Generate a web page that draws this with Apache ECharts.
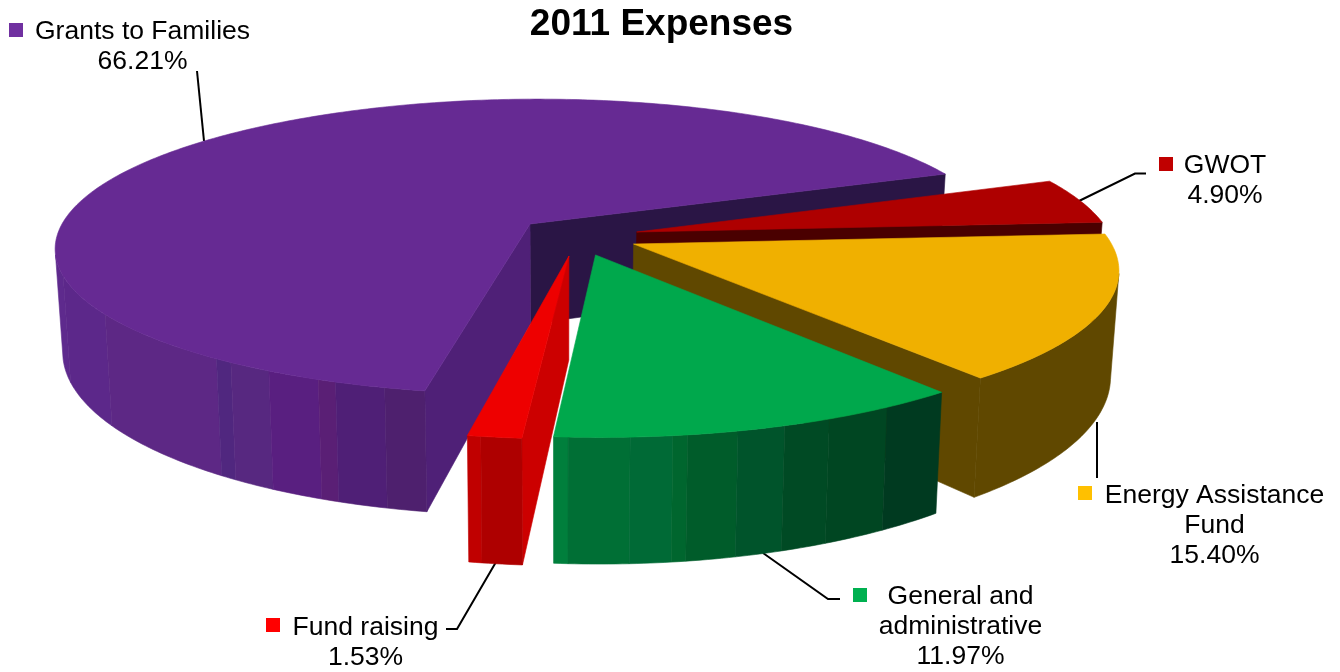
<!DOCTYPE html>
<html>
<head>
<meta charset="utf-8">
<title>2011 Expenses</title>
<script src="https://cdn.jsdelivr.net/npm/echarts@6/dist/echarts.min.js"></script>
<style>
  html, body { margin: 0; padding: 0; background: #fff; }
  #chart { width: 1340px; height: 672px; }
</style>
</head>
<body>
<div id="chart"></div>
<script>
// Expense shares, listed in the order the slices run around the pie.
const categories = ['Grants to Families', 'Fund raising', 'General and administrative', 'Energy Assistance Fund', 'GWOT'];
const shares = [66.21, 1.53, 11.97, 15.40, 4.90];

// Label line breaks for the names that wrap.
const labelLines = [['Grants to Families'], ['Fund raising'], ['General and', 'administrative'], ['Energy Assistance', 'Fund'], ['GWOT']];

// Slice colours.
const keyColors = ['#7030a0', '#ff0000', '#00b050', '#ffc000', '#c00000'];
const topColors = ['#662a93', '#ee0000', '#00a84c', '#f0b000', '#ae0000'];

// Outer wall facets per slice: [end angle in degrees, colour], walking counter-clockwise.
const wallBands = [
  { from: 192, bands: [[200, '#5e2a8d'], [215, '#5c288a'], [235, '#5d2885'], [237, '#50277f'], [242, '#572880'], [248, '#591f80'], [250, '#5a1f75'], [255.5, '#4f1f76'], [261, '#4e206e']] },
  { from: null, bands: [[261.2, '#c00000'], [266, '#ae0000']] },
  { from: null, bands: [[266.8, '#007f3c'], [273, '#006f35'], [277.3, '#006a36'], [278.8, '#00662e'], [284, '#005c2a'], [289, '#00542b'], [294, '#004a24'], [301, '#004622'], [309, '#003a20']] },
  { from: null, bands: [[349, '#604800']] },
  { from: null, bands: [] }
];

// Flat cut faces that stay visible on each slice.
const cutFaces = [
  [['start', '#2a1545'], ['end', '#4f2077']],
  [['end', '#cc0000']],
  [],
  [['start', '#604800']],
  [['start', '#4a0000']]
];

// How far each slice is pulled out of the pie, in pie radii.
const explodeX = [0, 0.084, 0.139, 0.219, 0.227];
const explodeY = [0, -0.215, -0.208, -0.136, -0.055];
// Painting order, back to front.
const paintRank = [0, 3, 4, 2, 1];

// Perspective camera for the top and bottom planes of the disc.
const view = {
  cx: 530, cy: 224, fx: 468, fy: 144, persp: 0.153, shear: 8,
  depth: 100, fyBottom: 162, pinchX: 560, pinch: 0.985
};
const startAngle = 21.5;
const total = shares.reduce((a, b) => a + b, 0);

// Label placement: key square [x, y], text centre x, first line centre y.
const labelBox = [
  { key: [9, 23], cx: 142.5, y: 32 },
  { key: [266, 618], cx: 365.5, y: 628 },
  { key: [853, 588], cx: 960.5, y: 597 },
  { key: [1078, 486], cx: 1214.5, y: 496 },
  { key: [1159, 157], cx: 1225, y: 166 }
];
const leaderPaths = [
  [[197, 71], [204, 141]],
  [[446, 629], [457, 629], [496, 562]],
  [[840, 599], [828, 599], [763, 553]],
  [[1097, 478], [1097, 422]],
  [[1146, 173.5], [1135, 173.5], [1079, 201]]
];

function sliceRange(i) {
  let a = startAngle;
  for (let k = 0; k < i; k++) a += shares[k] / total * 360;
  return [a, a + shares[i] / total * 360];
}

function projectTop(X, Y) {
  const w = 1 + view.persp * Y;
  return [view.cx + view.fx * X / w + view.shear * Y, view.cy - view.fy * Y / w];
}
function projectBottom(X, Y) {
  const w = 1 + view.persp * Y;
  const p = projectTop(X, Y);
  return [view.pinchX + (p[0] - view.pinchX) * view.pinch, view.cy + view.depth - view.fyBottom * Y / w];
}
function rimPoint(i, deg) {
  const r = deg * Math.PI / 180;
  return [explodeX[i] + Math.cos(r), explodeY[i] + Math.sin(r)];
}
function arcSamples(from, to) {
  const n = Math.max(2, Math.ceil(Math.abs(to - from) / 0.75));
  const out = [];
  for (let k = 0; k <= n; k++) out.push(from + (to - from) * k / n);
  return out;
}
function poly(points, color, z2) {
  return {
    type: 'polygon', z2: z2, silent: true,
    shape: { points: points },
    style: { fill: color, stroke: color, lineWidth: 0.6 }
  };
}

// One 3D wedge: cut faces and wall facets first, top face last.
function renderSlice(params, api) {
  const i = params.dataIndex;
  const sweep = api.value(0) / total * 360;
  const a0 = sliceRange(i)[0];
  const a1 = a0 + sweep;
  const base = paintRank[i] * 10;
  const children = [];
  const apex = [explodeX[i], explodeY[i]];

  cutFaces[i].forEach(function (c) {
    const rim = rimPoint(i, c[0] === 'start' ? a0 : a1);
    children.push(poly([projectTop(apex[0], apex[1]), projectTop(rim[0], rim[1]), projectBottom(rim[0], rim[1]), projectBottom(apex[0], apex[1])], c[1], base));
  });

  let cursor = wallBands[i].from === null ? a0 : wallBands[i].from;
  wallBands[i].bands.forEach(function (b) {
    const end = Math.min(b[0], a1);
    if (end <= cursor) return;
    const angles = arcSamples(cursor, end);
    const upper = angles.map(function (d) { const p = rimPoint(i, d); return projectTop(p[0], p[1]); });
    const lower = angles.map(function (d) { const p = rimPoint(i, d); return projectBottom(p[0], p[1]); }).reverse();
    children.push(poly(upper.concat(lower), b[1], base + 1));
    cursor = end;
  });

  const top = [projectTop(apex[0], apex[1])];
  arcSamples(a0, a1).forEach(function (d) {
    const p = rimPoint(i, d);
    top.push(projectTop(p[0], p[1]));
  });
  children.push(poly(top, topColors[i], base + 2));

  return { type: 'group', children: children };
}

// Key square, wrapped name, percentage and leader line for one slice.
function renderLabel(params, api) {
  const i = params.dataIndex;
  const box = labelBox[i];
  const children = [{
    type: 'polyline', silent: true,
    shape: { points: leaderPaths[i] },
    style: { stroke: '#000', lineWidth: 2, fill: null }
  }, {
    type: 'rect', silent: true,
    shape: { x: box.key[0], y: box.key[1], width: 14, height: 14 },
    style: { fill: keyColors[i] }
  }];
  const lines = labelLines[i].concat([api.value(0).toFixed(2) + '%']);
  lines.forEach(function (t, n) {
    children.push({
      type: 'text', silent: true,
      style: {
        text: t, x: box.cx, y: box.y + n * 30,
        align: 'center', verticalAlign: 'middle',
        font: '26.5px "Liberation Sans", Arial, sans-serif', fill: '#000'
      }
    });
  });
  return { type: 'group', children: children };
}

const chartData = shares.map(function (v, i) { return { name: categories[i], value: v }; });

const chart = echarts.init(document.getElementById('chart'), null, { renderer: 'canvas' });
chart.setOption({
  backgroundColor: '#fff',
  animation: false,
  title: {
    text: '2011 Expenses', left: 656.5, top: 1, textAlign: 'center',
    textStyle: { fontFamily: '"Liberation Sans", Arial, sans-serif', fontWeight: 'bold', fontSize: 37, color: '#000' }
  },
  series: [
    { type: 'custom', name: 'Leaders and labels', coordinateSystem: 'none', z: 1, data: chartData, renderItem: renderLabel, animation: false, silent: true },
    { type: 'custom', name: '2011 Expenses', coordinateSystem: 'none', z: 2, data: chartData, renderItem: renderSlice, animation: false, silent: true }
  ]
});
</script>
</body>
</html>
